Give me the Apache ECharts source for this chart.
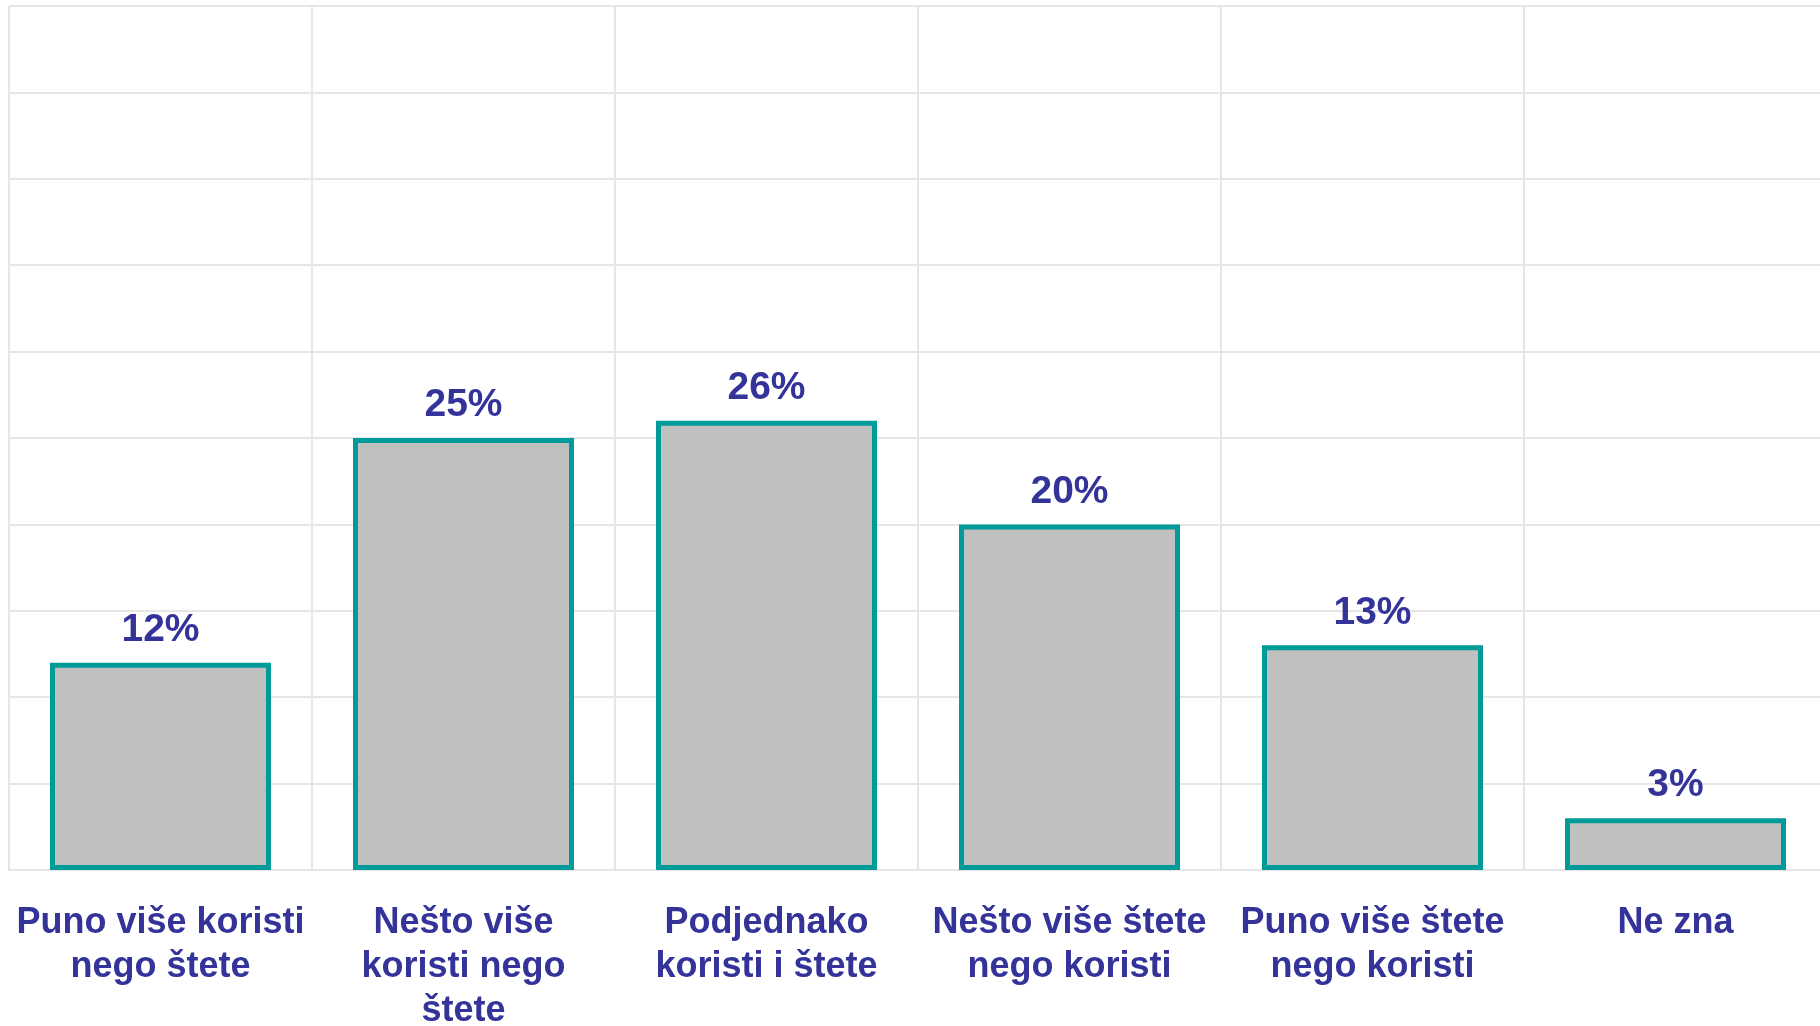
<!DOCTYPE html>
<html>
<head>
<meta charset="utf-8">
<script src="https://cdn.jsdelivr.net/npm/echarts@6/dist/echarts.min.js"></script>
<style>
    html, body { margin: 0; padding: 0; background: #fff; }
    #chart { width: 1820px; height: 1026px; }
</style>
</head>
<body>
<div id="chart"></div>
<script>
    // kategorije i postoci
    const categories = [
        'Puno više koristi\nnego štete',
        'Nešto više\nkoristi nego\nštete',
        'Podjednako\nkoristi i štete',
        'Nešto više štete\nnego koristi',
        'Puno više štete\nnego koristi',
        'Ne zna'
    ];
    const values = [12, 25, 26, 20, 13, 3];
    const yMax = 50;
    const yStep = 5;

    const gridColor = '#E6E6E6';
    const textColor = '#333399';

    echarts.init(document.getElementById('chart')).setOption({
        animation: false,
        grid: {
            left: 9,
            width: 1818,
            top: 6,
            bottom: 156,
            containLabel: false,
            outerBoundsMode: 'none'
        },
        xAxis: {
            type: 'category',
            data: categories,
            boundaryGap: true,
            axisTick: { show: false },
            axisLine: { lineStyle: { color: gridColor, width: 2 } },
            axisLabel: {
                interval: 0,
                margin: 31,
                color: textColor,
                fontFamily: 'Liberation Sans, Arial, sans-serif',
                fontWeight: 'bold',
                fontSize: 36,
                lineHeight: 44
            },
            splitLine: {
                show: true,
                lineStyle: { color: gridColor, width: 2 }
            }
        },
        yAxis: {
            type: 'value',
            min: 0,
            max: yMax,
            interval: yStep,
            axisLabel: { show: false },
            axisLine: { show: false },
            axisTick: { show: false },
            splitLine: { lineStyle: { color: gridColor, width: 2 } }
        },
        series: [{
            type: 'bar',
            data: values,
            barWidth: 221,
            itemStyle: {
                color: '#C0C0C0',
                borderColor: '#009B98',
                borderWidth: 5
            },
            label: {
                show: true,
                position: 'top',
                distance: 13,
                formatter: '{c}%',
                color: textColor,
                fontFamily: 'Liberation Sans, Arial, sans-serif',
                fontWeight: 'bold',
                fontSize: 39
            }
        }]
    });
</script>
</body>
</html>
